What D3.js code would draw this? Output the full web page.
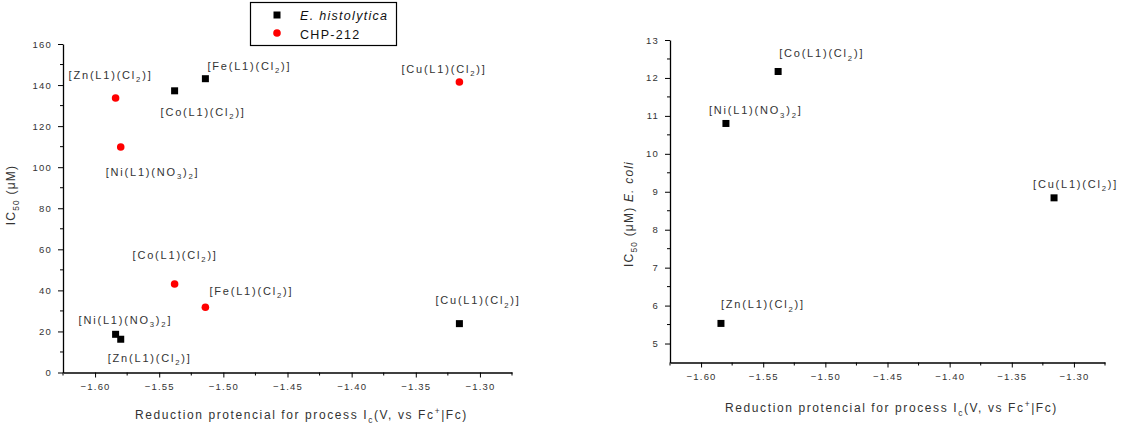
<!DOCTYPE html>
<html>
<head>
<meta charset="utf-8">
<script src="https://cdn.jsdelivr.net/npm/d3@7"></script>
<style>
  html, body { margin: 0; padding: 0; background: #fff; }
  svg { display: block; font-family: Arial, "Liberation Sans", sans-serif; }
</style>
</head>
<body>
<svg id="chart" width="1124" height="430"></svg>
<script>
// ---------------- DATA ----------------
const xTickValues = [-1.60, -1.55, -1.50, -1.45, -1.40, -1.35, -1.30];
const leftYTicks = [0, 20, 40, 60, 80, 100, 120, 140, 160];
const rightYTicks = [5, 6, 7, 8, 9, 10, 11, 12, 13];

// E. histolytica (black squares, left panel)
const histoLabels = ["[Co(L1)(Cl_2)]", "[Fe(L1)(Cl_2)]", "[Ni(L1)(NO_3)_2]", "[Zn(L1)(Cl_2)]", "[Cu(L1)(Cl_2)]"];
const histoX = [-1.538, -1.514, -1.584, -1.580, -1.316];
const histoY = [137.2, 143.1, 18.6, 16.2, 23.8];

// CHP-212 (red, left panel)
const chpLabels = ["[Zn(L1)(Cl_2)]", "[Ni(L1)(NO_3)_2]", "[Cu(L1)(Cl_2)]", "[Co(L1)(Cl_2)]", "[Fe(L1)(Cl_2)]"];
const chpX = [-1.584, -1.580, -1.316, -1.538, -1.514];
const chpY = [133.7, 109.8, 141.5, 43.1, 31.8];

// E. coli (black squares, right panel)
const ecoliLabels = ["[Co(L1)(Cl_2)]", "[Ni(L1)(NO_3)_2]", "[Zn(L1)(Cl_2)]", "[Cu(L1)(Cl_2)]"];
const ecoliX = [-1.538, -1.580, -1.584, -1.316];
const ecoliY = [12.17, 10.80, 5.53, 8.84];

const seriesNames = ["E. histolytica", "CHP-212"];

// ---------------- LAYOUT (label offsets in px from marker) ----------------
const histoOffsets = [[-14, 21], [2, -13], [-37, -14], [-13, 19], [-24, -23]];
const chpOffsets   = [[-47, -23], [-15, 25], [-58, -13], [-42, -29], [4, -16]];
const ecoliOffsets = [[1, -18], [-17, -13], [0, -19], [-21, -14]];

const svg = d3.select("#chart");
const TXT = "#333";

// append text with _x subscripts and ^x superscripts
function richText(sel, str, fs) {
  const parts = str.match(/(_[^_^]|\^[^_^]|[^_^]+)/g);
  let shift = 0;
  parts.forEach(p => {
    if (p[0] === "_" || p[0] === "^") {
      const d = p[0] === "_" ? fs * 0.3 : -fs * 0.4;
      sel.append("tspan").attr("dy", d - shift).attr("font-size", fs * 0.7).text(p.slice(1));
      shift = d;
    } else {
      sel.append("tspan").attr("dy", -shift).text(p);
      shift = 0;
    }
  });
}

function panel(opt) {
  const x = d3.scaleLinear().domain([-1.625, -1.275]).range([opt.x0, opt.x1]);
  const y = d3.scaleLinear().domain(opt.yDomain).range([opt.yBottom, opt.yTop]);
  const g = svg.append("g");

  // x axis
  const xMinor = d3.range(0, 15).map(i => -1.625 + i * 0.025).filter(v => !xTickValues.some(t => Math.abs(t - v) < 1e-6));
  const gx = g.append("g").attr("transform", `translate(0,${opt.yBottom})`);
  gx.call(d3.axisBottom(x).tickValues(xTickValues).tickSizeInner(5).tickSizeOuter(0).tickPadding(6).tickFormat(d3.format(".2f")));
  gx.call(gg => gg.select(".domain").attr("stroke", "#000").attr("stroke-width", 1.3));
  gx.selectAll(".tick line").attr("stroke", "#000");
  gx.selectAll(".tick text").attr("fill", TXT).attr("font-size", 9.5).attr("letter-spacing", 1.2).attr("font-family", "Arial, Liberation Sans");
  gx.selectAll(".minor").data(xMinor).join("line").attr("class", "minor")
    .attr("x1", d => x(d)).attr("x2", d => x(d)).attr("y1", 0).attr("y2", 3).attr("stroke", "#000");

  // y axis
  const gy = g.append("g").attr("transform", `translate(${opt.x0},0)`);
  gy.call(d3.axisLeft(y).tickValues(opt.yTicks).tickSizeInner(5).tickSizeOuter(0).tickPadding(6));
  gy.call(gg => gg.select(".domain").attr("stroke", "#000").attr("stroke-width", 1.3));
  gy.selectAll(".tick line").attr("stroke", "#000");
  gy.selectAll(".tick text").attr("fill", TXT).attr("font-size", 9.5).attr("letter-spacing", 1.2).attr("font-family", "Arial, Liberation Sans");
  gy.selectAll(".minor").data(opt.yMinor).join("line").attr("class", "minor")
    .attr("x1", -3).attr("x2", 0).attr("y1", d => y(d)).attr("y2", d => y(d)).attr("stroke", "#000");

  // x title
  const xt = g.append("text").attr("x", (opt.x0 + opt.x1) / 2 + opt.xTitleDx).attr("y", opt.xTitleY)
    .attr("text-anchor", "middle").attr("font-size", 12).attr("letter-spacing", 1.6).attr("fill", TXT);
  richText(xt, "Reduction protencial for process I_c(V, vs Fc^+|Fc)", 12);

  return { x, y, g };
}

function drawLabels(p, xs, ys, labels, offsets, fs) {
  labels.forEach((lab, i) => {
    const t = p.g.append("text")
      .attr("x", p.x(xs[i]) + offsets[i][0])
      .attr("y", p.y(ys[i]) + offsets[i][1] + fs * 0.35)
      .attr("font-size", fs).attr("letter-spacing", 1.8).attr("fill", TXT);
    richText(t, lab, fs);
  });
}

function squares(p, xs, ys, size) {
  p.g.selectAll(null).data(xs.map((v, i) => [v, ys[i]])).join("rect")
    .attr("x", d => p.x(d[0]) - size / 2).attr("y", d => p.y(d[1]) - size / 2)
    .attr("width", size).attr("height", size).attr("fill", "#000");
}

// ---------- LEFT PANEL ----------
const L = panel({
  x0: 63, x1: 512, yBottom: 372.5, yTop: 44, yDomain: [0, 160],
  yTicks: leftYTicks, yMinor: d3.range(10, 160, 20), xTitleY: 419, xTitleDx: 14
});
squares(L, histoX, histoY, 7);
L.g.selectAll(null).data(chpX.map((v, i) => [v, chpY[i]])).join("circle")
  .attr("cx", d => L.x(d[0])).attr("cy", d => L.y(d[1])).attr("r", 3.8).attr("fill", "#f00");
drawLabels(L, histoX, histoY, histoLabels, histoOffsets, 11);
drawLabels(L, chpX, chpY, chpLabels, chpOffsets, 11);

// left y title
const lyt = svg.append("text").attr("transform", "translate(15,195) rotate(-90)")
  .attr("text-anchor", "middle").attr("font-size", 12).attr("letter-spacing", 1.2).attr("fill", TXT);
richText(lyt, "IC_5_0 (μM)", 12);

// ---------- RIGHT PANEL ----------
const R = panel({
  x0: 670, x1: 1105, yBottom: 362.5, yTop: 40, yDomain: [4.5, 13],
  yTicks: rightYTicks, yMinor: d3.range(5.5, 13, 1), xTitleY: 412, xTitleDx: 4
});
squares(R, ecoliX, ecoliY, 7);
drawLabels(R, ecoliX, ecoliY, ecoliLabels, ecoliOffsets, 11);

const ryt = svg.append("text").attr("transform", "translate(633,214) rotate(-90)")
  .attr("text-anchor", "middle").attr("font-size", 12).attr("letter-spacing", 1.2).attr("fill", TXT);
richText(ryt, "IC_5_0 (μM) ", 12);
ryt.append("tspan").attr("font-style", "italic").text("E. coli");

// ---------- LEGEND ----------
const lg = svg.append("g");
lg.append("rect").attr("x", 250.5).attr("y", 2.5).attr("width", 146).attr("height", 43)
  .attr("fill", "#fff").attr("stroke", "#000").attr("stroke-width", 1.2);
lg.append("rect").attr("x", 273.5).attr("y", 11.5).attr("width", 7).attr("height", 7).attr("fill", "#000");
lg.append("circle").attr("cx", 277).attr("cy", 33).attr("r", 3.8).attr("fill", "#f00");
lg.selectAll(null).data(seriesNames).join("text")
  .attr("x", 300).attr("y", (d, i) => 19.5 + i * 19)
  .attr("font-size", 12.5).attr("letter-spacing", 1.3).attr("fill", "#111")
  .attr("font-style", (d, i) => i === 0 ? "italic" : "normal")
  .text(d => d);
</script>
</body>
</html>
